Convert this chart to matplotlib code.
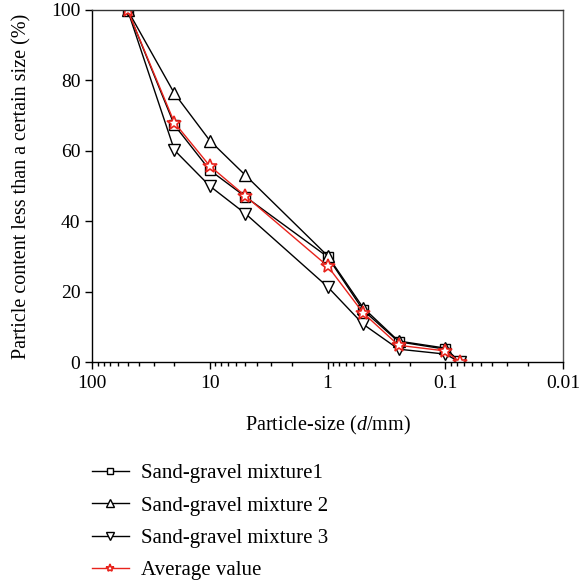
import matplotlib.pyplot as plt
import numpy as np

plt.rcParams['font.family'] = ['Liberation Serif', 'DejaVu Serif']
plt.rcParams['mathtext.fontset'] = 'custom'
plt.rcParams['mathtext.rm'] = 'Liberation Serif'
plt.rcParams['mathtext.it'] = 'Liberation Serif:italic'

# particle size (mm)
size = [50, 20, 10, 5, 1, 0.5, 0.25, 0.1, 0.075]
mix1 = [100, 67.3, 54.5, 47.0, 29.9, 14.8, 5.8, 3.7, 0]
mix2 = [100, 76.3, 62.9, 53.1, 30.2, 15.5, 6.0, 4.0, 0]
mix3 = [100, 60.2, 50.0, 42.2, 21.4, 10.8, 3.7, 2.3, 0]
avg = [100, 68.0, 55.7, 47.2, 27.3, 14.0, 4.8, 3.2, 0]

labels = ["Sand-gravel mixture1", "Sand-gravel mixture 2",
          "Sand-gravel mixture 3", "Average value"]
red = "#e8231c"

fig = plt.figure(figsize=(5.83, 5.88), dpi=100)
ax = fig.add_axes([0.158, 0.384, 0.808, 0.599])

ax.plot(size, mix1, color="black", lw=1, marker="s", ms=7, mfc="white", mec="black", mew=1, label=labels[0])
ax.plot(size, mix2, color="black", lw=1, marker="^", ms=9, mfc="white", mec="black", mew=1, label=labels[1])
ax.plot(size, mix3, color="black", lw=1, marker="v", ms=9, mfc="white", mec="black", mew=1, label=labels[2])
ax.plot(size, avg, color=red, lw=1, marker="*", ms=10, mfc="white", mec=red, mew=1.2, label=labels[3])

ax.set_xscale("log")
ax.set_xlim(100, 0.01)
ax.set_ylim(0, 100)
ax.set_xticks([100, 10, 1, 0.1, 0.01])
ax.set_xticklabels(["100", "10", "1", "0.1", "0.01"])
ax.set_yticks([0, 20, 40, 60, 80, 100])
ax.tick_params(axis="both", which="major", direction="out", length=5, width=1, labelsize=14)
ax.tick_params(axis="x", which="minor", direction="out", length=3, width=1)
ax.tick_params(axis="x", pad=4)
for s in ax.spines.values():
    s.set_linewidth(1)
ax.spines["right"].set_color("#555555")
ax.spines["top"].set_color("#333333")

ax.set_xlabel("Particle-size ($d$/mm)", fontsize=14.5, labelpad=16)
ax.set_ylabel("Particle content less than a certain size (%)", fontsize=14.5, labelpad=14)

fig.legend(loc="upper left", bbox_to_anchor=(0.126, 0.243), frameon=False, fontsize=15,
           handlelength=1.75, handletextpad=0.6, labelspacing=0.61, markerscale=0.6)

fig.savefig("out.png", dpi=100)
